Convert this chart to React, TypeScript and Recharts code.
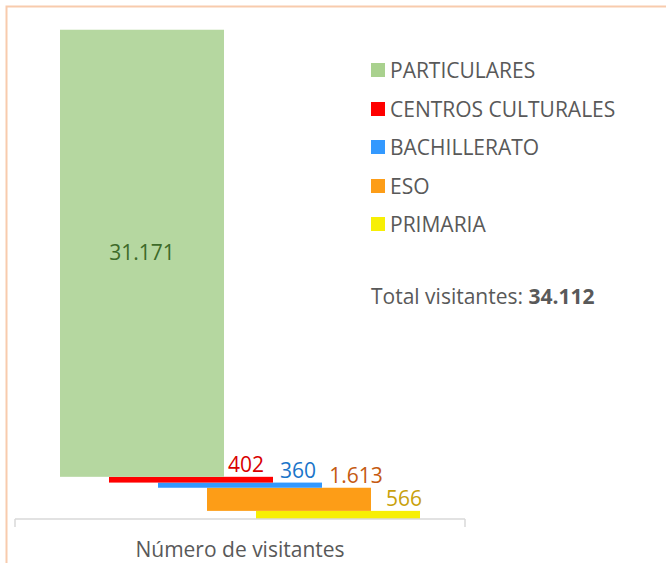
import React from "react";
import { BarChart, Bar, XAxis, YAxis, LabelList } from "recharts";

// stacking order: bottom first
const seriesKeys = ["primaria", "eso", "bachillerato", "centros", "particulares"];
const seriesNames = ["PRIMARIA", "ESO", "BACHILLERATO", "CENTROS CULTURALES", "PARTICULARES"];
const seriesValues = [566, 1613, 360, 402, 31171];
const barColors = ["#f7ef05", "#fd9d17", "#3399ff", "#ff0000", "#b5d7a0"];
const legendColors = ["#f7ef05", "#fd9d17", "#3399ff", "#ff0000", "#a9d18e"];
const labelColors = ["#c9a10c", "#c55a11", "#1a75c9", "#d90000", "#3d6a29"];
const category = "Número de visitantes";
const totalVisitors = "34.112";

const data = [
  seriesKeys.reduce((row: any, k, i) => {
    row[k] = seriesValues[i];
    return row;
  }, { name: category }),
];

const FONT = "'Open Sans', sans-serif";
const FS = 21;
const STEP = 49; // horizontal step between the staggered bars
const shiftFor = (i: number) => (2 - i) * STEP;

const fmt = (v: number) => v.toLocaleString("de-DE");

const makeShape = (i: number) => (props: any) => {
  const { x, y, width, height } = props;
  return <rect x={x + shiftFor(i)} y={y} width={width} height={height} fill={barColors[i]} />;
};

const makeLabel = (i: number) => (props: any) => {
  const { x, y, width, height, value } = props;
  const sx = Number(x) + shiftFor(i);
  if (i === 4) {
    return (
      <text x={sx + width / 2} y={Number(y) + height / 2} dy={7} textAnchor="middle"
        fill={labelColors[i]} fontSize={FS} fontFamily={FONT}>
        {fmt(value)}
      </text>
    );
  }
  const dxs = [-16, -15, -24, -27];
  return (
    <text x={sx + width + dxs[i]} y={Number(y) - 5} textAnchor="middle"
      fill={labelColors[i]} fontSize={FS} fontFamily={FONT}>
      {fmt(value)}
    </text>
  );
};

const AxisTick = (props: any) => {
  const { x, y, width, payload } = props;
  const half = width / 2;
  const top = y - 8; // tick y sits below the axis line by tickSize + margin
  return (
    <g>
      <line x1={x - half} y1={top} x2={x - half} y2={top + 8} stroke="#d9d9d9" strokeWidth={1.5} />
      <line x1={x + half} y1={top} x2={x + half} y2={top + 8} stroke="#d9d9d9" strokeWidth={1.5} />
      <text x={x} y={top + 38} textAnchor="middle" fill="#595959" fontSize={FS} fontFamily={FONT}>
        {payload.value}
      </text>
    </g>
  );
};

const LegendBox = () => {
  const rows = [4, 3, 2, 1, 0];
  return (
    <div style={{ position: "absolute", left: 371, top: 51, width: 290, fontFamily: FONT, fontSize: FS, color: "#595959" }}>
      {rows.map((i) => (
        <div key={i} style={{ height: 38.5, display: "flex", alignItems: "center" }}>
          <span style={{ width: 14, height: 14, background: legendColors[i], marginRight: 5, display: "inline-block" }} />
          <span>{seriesNames[i]}</span>
        </div>
      ))}
      <div style={{ height: 38.5, marginTop: 33, display: "flex", alignItems: "center" }}>
        <span>
          Total visitantes: <b>{totalVisitors}</b>
        </span>
      </div>
    </div>
  );
};

export default function App() {
  return (
    <div style={{ position: "absolute", left: 0, top: 0, width: 666, height: 563, background: "#fff", overflow: "hidden" }}>
      <svg width={666} height={563} style={{ position: "absolute", left: 0, top: 0 }}>
        <path d="M6.5 570 L6.5 6.5 L680 6.5" fill="none" stroke="#f8cbad" strokeWidth={2} />
      </svg>
      <div style={{ position: "absolute", left: 0, top: 0 }}>
        <BarChart width={666} height={563} data={data} margin={{ top: 17, right: 201, bottom: 0, left: 15 }}>
          <YAxis hide domain={[0, 35000]} />
          <XAxis dataKey="name" height={44} axisLine={{ stroke: "#d9d9d9", strokeWidth: 1.5 }} tickLine={false}
            tick={<AxisTick />} interval={0} />
          {seriesKeys.map((k, i) => (
            <Bar key={k} dataKey={k} name={seriesNames[i]} stackId="a" barSize={164} fill={barColors[i]}
              shape={makeShape(i)} isAnimationActive={false}>
              <LabelList dataKey={k} content={makeLabel(i)} />
            </Bar>
          ))}
        </BarChart>
      </div>
      <LegendBox />
    </div>
  );
}
